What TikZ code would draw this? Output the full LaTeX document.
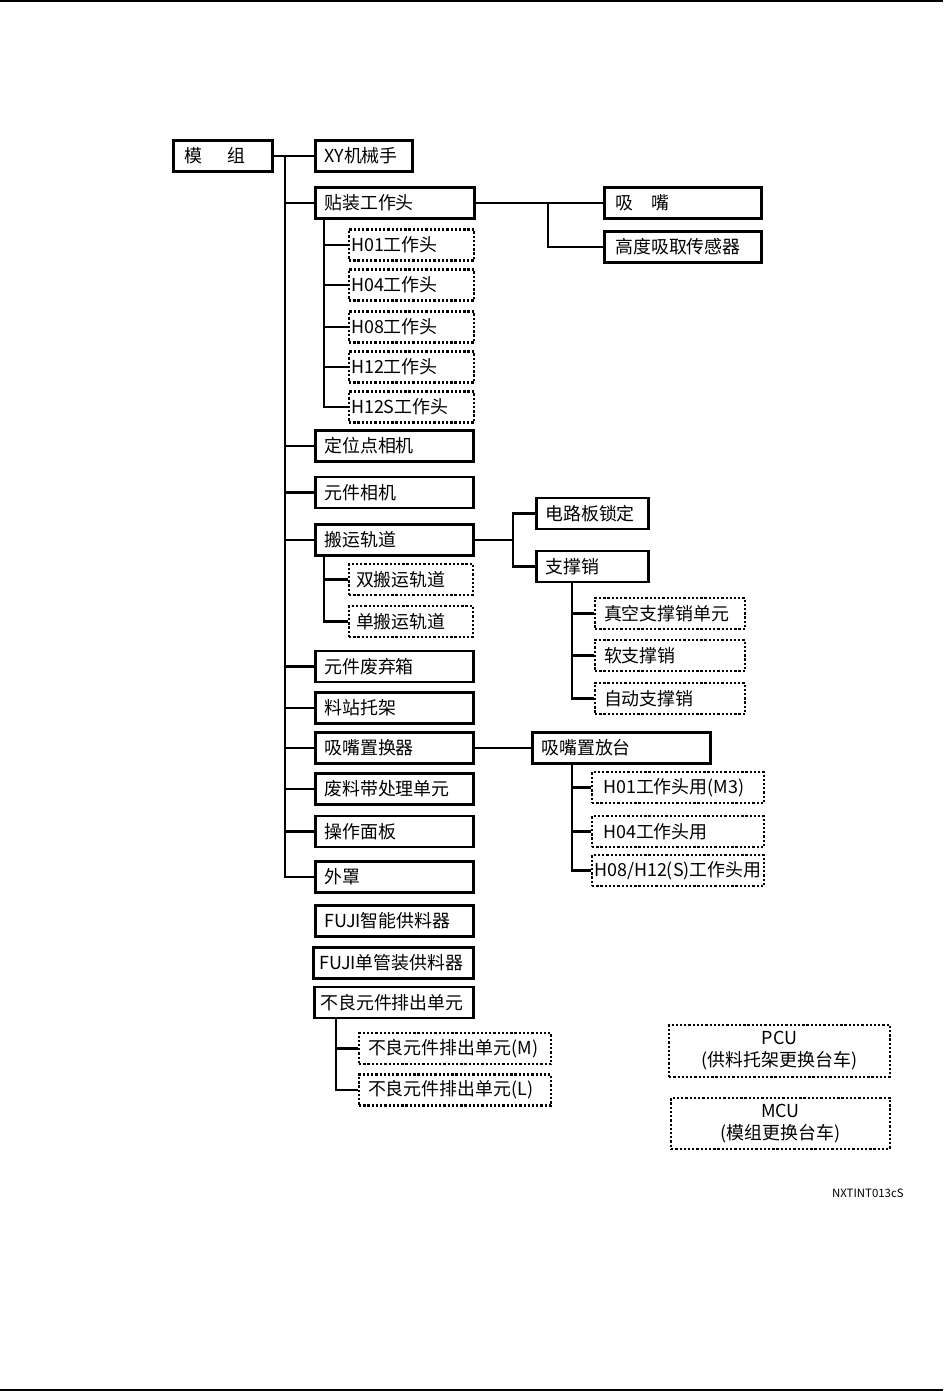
\documentclass[tikz,border=0pt]{standalone}
\usepackage{fontspec}
\setmainfont{Noto Sans CJK SC}
\usetikzlibrary{calc}

\newcommand\unitfont{\fontsize{10.2pt}{12.5pt}\selectfont}

\begin{document}
\begin{tikzpicture}[x=0.02cm, y=-0.02cm,
    boxw/.style 2 args={inner xsep=#2, /utils/exec={\pgfmathsetlengthmacro\boxtw{#1-2*#2}}, text width=\boxtw},
    unitbox/.style={draw, line width=1.45pt, anchor=west, minimum height=0.62cm, inner ysep=0pt, align=left, font=\unitfont, boxw={#1}{0.18cm}},
    optbox/.style={unitbox=#1, line width=1.2pt, dash pattern=on 1.3pt off 1.1pt},
    link/.style={line width=1.4pt}]
        \useasboundingbox (0,0) rectangle (943,1391);
        % Page rules
        \draw[line width=0.045cm] (0,1) -- (943,1);
        \draw[line width=0.045cm] (0,1390) -- (943,1390);

        % Module and main units
        \node[unitbox=1.98cm, boxw={1.98cm}{0.22cm}] (mod) at (172,156) {模\hspace{1.4em}组};
        \node[unitbox=1.94cm] (xy) at (314,156) {XY机械手};
        \node[unitbox=3.18cm] (head) at (314,203) {贴装工作头};
        \node[unitbox=3.16cm] (fcam) at (314,446) {定位点相机};
        \node[unitbox=3.16cm] (pcam) at (314,492.5) {元件相机};
        \node[unitbox=3.16cm] (conv) at (314,540) {搬运轨道};
        \node[unitbox=3.16cm] (dump) at (314,666.5) {元件废弃箱};
        \node[unitbox=3.16cm] (pallet) at (314,708) {料站托架};
        \node[unitbox=3.16cm] (changer) at (314,748) {吸嘴置换器};
        \node[unitbox=3.16cm] (tape) at (314,789) {废料带处理单元};
        \node[unitbox=3.16cm] (panel) at (314,831.5) {操作面板};
        \node[unitbox=3.16cm] (cover) at (314,877) {外罩};

        % Heads
        \node[unitbox=3.14cm, boxw={3.14cm}{0.22cm}] (nozzle) at (603,203) {吸\hspace{1em}嘴};
        \node[unitbox=3.14cm, boxw={3.14cm}{0.22cm}] (sensor) at (603,247) {高度吸取传感器};
        \node[optbox=2.5cm, boxw={2.5cm}{0.04cm}] (h01) at (348,245) {H01工作头};
        \node[optbox=2.5cm, boxw={2.5cm}{0.04cm}] (h04) at (348,285) {H04工作头};
        \node[optbox=2.5cm, boxw={2.5cm}{0.04cm}] (h08) at (348,327) {H08工作头};
        \node[optbox=2.5cm, boxw={2.5cm}{0.04cm}] (h12) at (348,367) {H12工作头};
        \node[optbox=2.5cm, boxw={2.5cm}{0.04cm}] (h12s) at (348,407) {H12S工作头};

        % Conveyor
        \node[unitbox=2.24cm] (clamp) at (535,513.5) {电路板锁定};
        \node[unitbox=2.24cm] (pin) at (535,566.5) {支撑销};
        \node[optbox=2.48cm, boxw={2.48cm}{0.14cm}] (dual) at (348,579.5) {双搬运轨道};
        \node[optbox=2.48cm, boxw={2.48cm}{0.14cm}] (single) at (348,621.5) {单搬运轨道};
        \node[optbox=3cm] (vac) at (594,613.5) {真空支撑销单元};
        \node[optbox=3cm] (soft) at (594,655.5) {软支撑销};
        \node[optbox=3cm] (auto) at (594,698.5) {自动支撑销};

        % Nozzle station
        \node[unitbox=3.56cm] (station) at (531,748) {吸嘴置放台};
        \node[optbox=3.44cm, boxw={3.44cm}{0.22cm}] (n01) at (591,787.5) {H01工作头用(M3)};
        \node[optbox=3.44cm, boxw={3.44cm}{0.22cm}] (n04) at (591,831.5) {H04工作头用};
        \node[optbox=3.44cm, boxw={3.44cm}{0.04cm}] (n08) at (591,870.5) {H08/H12(S)工作头用};

        % Feeders and reject units
        \node[unitbox=3.16cm] (feeder) at (314,921) {FUJI智能供料器};
        \node[unitbox=3.2cm, boxw={3.2cm}{0.12cm}] (stick) at (312,963) {FUJI单管装供料器};
        \node[unitbox=3.18cm, boxw={3.18cm}{0.12cm}] (reject) at (313,1002.5) {不良元件排出单元};
        \node[optbox=3.84cm] (rejm) at (358,1048.5) {不良元件排出单元(M)};
        \node[optbox=3.84cm] (rejl) at (358,1090) {不良元件排出单元(L)};

        % Carts
        \node[optbox=4.42cm, align=center, minimum height=1.04cm] (pcu) at (668,1051) {PCU\\(供料托架更换台车)};
        \node[optbox=4.38cm, align=center, minimum height=1.02cm] (mcu) at (670,1123.5) {MCU\\(模组更换台车)};

        \node[anchor=east, inner sep=0pt, font=\fontsize{6.5pt}{7pt}\selectfont] (code) at (904,1193) {NXTINT013cS};

        % Trunk
        \coordinate (trunk) at (285,156);
        \draw[link] (mod.east) -- (xy.west);
        \draw[link] (trunk) -- (trunk |- cover.west) -- (cover.west);
        \foreach \u in {head,fcam,pcam,conv,dump,pallet,changer,tape,panel}
            \draw[link] (trunk |- \u.west) -- (\u.west);

        % Head branches
        \coordinate (hb) at (548,203);
        \draw[link] (head.east) -- (nozzle.west);
        \draw[link] (hb) |- (sensor.west);
        \coordinate (hs) at ([xshift=0.2cm]head.south west);
        \draw[link] (hs) |- (h12s.west);
        \foreach \u in {h01,h04,h08,h12}
            \draw[link] (hs |- \u.west) -- (\u.west);

        % Conveyor branches
        \coordinate (cb) at (513,540);
        \draw[link] (conv.east) -- (cb);
        \draw[link] (clamp.west) -| (cb) |- (pin.west);
        \coordinate (cs) at ([xshift=0.2cm]conv.south west);
        \draw[link] (cs) |- (single.west);
        \draw[link] (cs |- dual.west) -- (dual.west);
        \coordinate (ps) at ([xshift=0.74cm]pin.south west);
        \draw[link] (ps) |- (auto.west);
        \draw[link] (ps |- vac.west) -- (vac.west);
        \draw[link] (ps |- soft.west) -- (soft.west);

        % Nozzle station branches
        \draw[link] (changer.east) -- (station.west);
        \coordinate (ss) at ([xshift=0.82cm]station.south west);
        \draw[link] (ss) |- (n08.west);
        \draw[link] (ss |- n01.west) -- (n01.west);
        \draw[link] (ss |- n04.west) -- (n04.west);

        % Reject unit branches
        \coordinate (rs) at ([xshift=0.46cm]reject.south west);
        \draw[link] (rs) |- (rejl.west);
        \draw[link] (rs |- rejm.west) -- (rejm.west);
\end{tikzpicture}
\end{document}
